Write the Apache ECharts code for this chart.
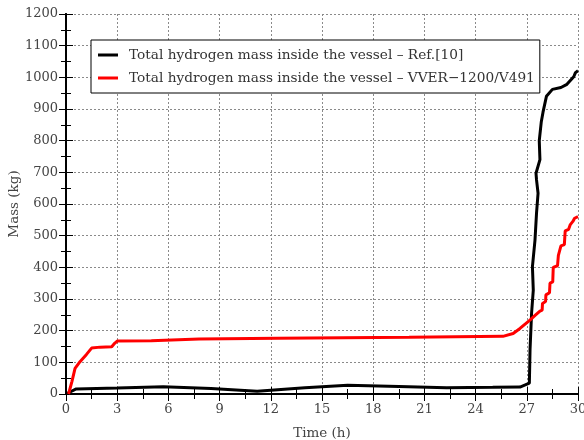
<!DOCTYPE html>
<html>
<head>
<meta charset="utf-8">
<script src="https://cdn.jsdelivr.net/npm/echarts@6/dist/echarts.min.js"></script>
<style>
  html, body { margin: 0; padding: 0; background: #fff; }
  #chart { width: 584px; height: 440px; }
</style>
</head>
<body>
<div id="chart"></div>
<script>
// Hydrogen mass inside the reactor vessel over time (h, kg)
const refTime = [0, 0.6, 3, 5.7, 8.5, 11.2, 14, 16.5, 19.5, 22.3, 25, 26.6, 27.15, 27.19, 27.28, 27.38, 27.33, 27.48, 27.57, 27.66, 27.57, 27.54, 27.77, 27.73, 27.85, 27.95, 28.15, 28.5, 29.0, 29.35, 29.75, 29.85, 30];
const refMass = [0, 16, 19, 23, 17, 9, 20, 28, 24, 20, 21, 22, 34, 140, 255, 328, 402, 486, 571, 634, 676, 697, 740, 800, 860, 890, 940, 962, 968, 978, 1002, 1015, 1021];

const vverTime = [0.15, 0.35, 0.53, 0.82, 1.2, 1.5, 2.0, 2.68, 2.85, 3.0, 5.0, 7.8, 12.4, 12.5, 20.1, 20.2, 25.6, 26.2, 26.6, 27.2, 27.5, 27.77, 27.9, 27.92, 28.1, 28.12, 28.33, 28.36, 28.52, 28.55, 28.8, 28.85, 28.95, 29.0, 29.2, 29.25, 29.45, 29.55, 29.7, 29.8, 30];
const vverMass = [0, 40, 81, 102, 125, 145, 148, 149, 160, 167, 168, 174, 176, 179, 179, 182, 182, 191, 207, 234, 249, 262, 265, 286, 292, 313, 320, 350, 354, 400, 405, 438, 442, 468, 472, 515, 520, 535, 545, 555, 560];

const refName = 'Total hydrogen mass inside the vessel \u2013 Ref.[10]';
const vverName = 'Total hydrogen mass inside the vessel \u2013 VVER\u22121200/V491';

const FONT = 'DejaVu Serif';
const pairs = (xs, ys) => xs.map((x, i) => [x, ys[i]]);

// thin horizontal bar centred in a 20x14 legend icon box
const LINE_ICON = 'path://M0,0 M0,5.5 L20,5.5 L20,8.5 L0,8.5 Z M20,14';

const frameLine = { show: true, lineStyle: { color: '#000', width: 2 } };
const tickIn = { show: true, inside: true, length: 7, lineStyle: { color: '#000', width: 1 } };
const minorIn = { show: true, splitNumber: 2, length: 5, lineStyle: { color: '#000', width: 1 } };
const gridLine = { show: true, lineStyle: { color: '#8a8a8a', width: 1, type: [2, 2] } };
const labelStyle = { color: '#444', fontFamily: FONT, fontSize: 13, formatter: v => String(v) };

const chart = echarts.init(document.getElementById('chart'), null, { renderer: 'canvas' });
chart.setOption({
  animation: false,
  backgroundColor: '#fff',
  grid: { left: 66, right: 6, top: 14, bottom: 46, containLabel: false, outerBoundsMode: 'none' },
  legend: {
    left: 91, top: 40,
    orient: 'vertical',
    backgroundColor: '#fff',
    borderColor: '#000', borderWidth: 1, borderRadius: 0,
    padding: [8, 5, 8, 7],
    itemWidth: 20, itemHeight: 14, itemGap: 9,
    textStyle: { color: '#333', fontFamily: FONT, fontSize: 13.7, padding: [0, 0, 0, 6] },
    data: [
      { name: refName, icon: LINE_ICON, itemStyle: { color: '#000' } },
      { name: vverName, icon: LINE_ICON, itemStyle: { color: '#ff0000' } }
    ]
  },
  xAxis: [
    {
      type: 'value', min: 0, max: 30, interval: 3, position: 'bottom',
      axisLine: frameLine, axisTick: tickIn, minorTick: minorIn,
      splitLine: gridLine, minorSplitLine: { show: false },
      axisLabel: Object.assign({ margin: 9 }, labelStyle),
      name: 'Time (h)', nameLocation: 'middle', nameGap: 32, nameMoveOverlap: false,
      nameTextStyle: { color: '#444', fontFamily: FONT, fontSize: 13.5 }
    },
    {
      type: 'value', min: 0, max: 30, interval: 3, position: 'top',
      axisLine: frameLine, axisTick: tickIn, minorTick: minorIn,
      splitLine: { show: false }, axisLabel: { show: false }
    }
  ],
  yAxis: [
    {
      type: 'value', min: 0, max: 1200, interval: 100, position: 'left',
      axisLine: frameLine, axisTick: tickIn, minorTick: minorIn,
      splitLine: gridLine,
      axisLabel: Object.assign({ margin: 8 }, labelStyle),
      name: 'Mass (kg)', nameLocation: 'middle', nameGap: 45, nameMoveOverlap: false,
      nameTextStyle: { color: '#444', fontFamily: FONT, fontSize: 13.5 }
    },
    {
      type: 'value', min: 0, max: 1200, interval: 100, position: 'right',
      axisLine: frameLine, axisTick: tickIn, minorTick: minorIn,
      splitLine: { show: false }, axisLabel: { show: false }
    }
  ],
  series: [
    {
      name: refName, type: 'line', xAxisIndex: 0, yAxisIndex: 0,
      showSymbol: false, symbol: 'none', smooth: false,
      lineStyle: { color: '#000', width: 3 }, itemStyle: { color: '#000' },
      data: pairs(refTime, refMass), z: 3
    },
    {
      name: vverName, type: 'line', xAxisIndex: 0, yAxisIndex: 0,
      showSymbol: false, symbol: 'none', smooth: false,
      lineStyle: { color: '#ff0000', width: 3 }, itemStyle: { color: '#ff0000' },
      data: pairs(vverTime, vverMass), z: 4
    }
  ]
});
</script>
</body>
</html>
